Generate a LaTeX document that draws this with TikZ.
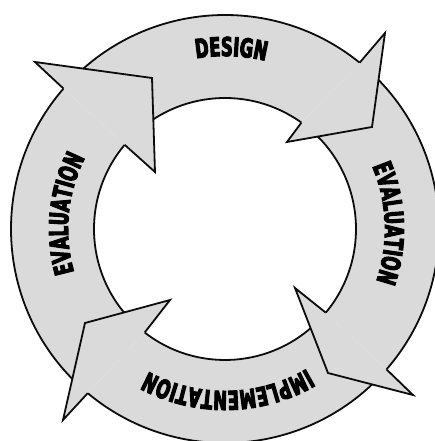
\documentclass[tikz,border=0pt]{standalone}
\usepackage{fontspec}
\usetikzlibrary{decorations.text}
\newfontfamily\cyclefont{DejaVu Sans}[FakeStretch=0.63, BoldFeatures={FakeBold=4}]
\definecolor{stipple}{RGB}{218,218,218}
\definecolor{ink}{RGB}{12,12,12}
\tikzset{
  band/.style={fill=stipple},
  rim/.style={draw=ink, line width=1.8pt, line join=miter},
  lbl/.style={decorate, decoration={text along path, text align=center,
    text={|\cyclefont\bfseries\fontsize{26}{26}\selectfont|#1}}}
}

\begin{document}
\begin{tikzpicture}[x=1pt,y=1pt]
  \useasboundingbox (-225,-212) rectangle (209,229);
  % arrow heads
  \coordinate (dOut) at (160,196);
  \coordinate (dTip) at (147,102);
  \coordinate (dIn) at (62,87);
  \coordinate (rOut) at (188,-166);
  \coordinate (rTip) at (103,-144);
  \coordinate (rIn) at (70,-59);
  \coordinate (iOut) at (-162,-191);
  \coordinate (iTip) at (-140,-94);
  \coordinate (iIn) at (-55,-71);
  \coordinate (lOut) at (-190,167);
  \coordinate (lTip) at (-73,151);
  \coordinate (lIn) at (-70,57);
  % bands
  \fill[band] (135:214) arc[start angle=135, end angle=51, radius=214] -- (54.3:131) arc[start angle=54.3, end angle=135, radius=131] -- cycle;
  \draw[rim] (135:214) arc[start angle=135, end angle=51, radius=214] (54.3:131) arc[start angle=54.3, end angle=135, radius=131];
  \fill[band] (48:214) arc[start angle=48, end angle=-41, radius=214] -- (-39.7:131) arc[start angle=-39.7, end angle=48, radius=131] -- cycle;
  \draw[rim] (48:214) arc[start angle=48, end angle=-41, radius=214] (-39.7:131) arc[start angle=-39.7, end angle=48, radius=131];
  \fill[band] (-44:214) arc[start angle=-44, end angle=-129.9, radius=214] -- (-127.8:131) arc[start angle=-127.8, end angle=-44, radius=131] -- cycle;
  \draw[rim] (-44:214) arc[start angle=-44, end angle=-129.9, radius=214] (-127.8:131) arc[start angle=-127.8, end angle=-44, radius=131];
  \fill[band] (227:214) arc[start angle=227, end angle=139, radius=214] -- (140:131) arc[start angle=140, end angle=227, radius=131] -- cycle;
  \draw[rim] (227:214) arc[start angle=227, end angle=139, radius=214] (140:131) arc[start angle=140, end angle=227, radius=131];
  % heads on top
  \fill[band] (51:214) -- (dOut) -- (dTip) -- (dIn) -- (54.3:131) -- cycle;
  \draw[rim] (51:214) -- (dOut) -- (dTip) -- (dIn) -- (54.3:131);
  \fill[band] (-41:214) -- (rOut) -- (rTip) -- (rIn) -- (-39.7:131) -- cycle;
  \draw[rim] (-41:214) -- (rOut) -- (rTip) -- (rIn) -- (-39.7:131);
  \fill[band] (-129.9:214) -- (iOut) -- (iTip) -- (iIn) -- (-127.8:131) -- cycle;
  \draw[rim] (-129.9:214) -- (iOut) -- (iTip) -- (iIn) -- (-127.8:131);
  \fill[band] (139:214) -- (lOut) -- (lTip) -- (lIn) -- (140:131) -- cycle;
  \draw[rim] (139:214) -- (lOut) -- (lTip) -- (lIn) -- (140:131);
  % labels
  \path[lbl=DESIGN] (128:173) arc[start angle=128, end angle=48, radius=173];
  \path[lbl=EVALUATION] (42:160) arc[start angle=42, end angle=-38, radius=160];
  \path[lbl=IMPLEMENTATION] (-49:162) arc[start angle=-49, end angle=-129, radius=162];
  \path[lbl=EVALUATION] (214.5:157) arc[start angle=214.5, end angle=134.5, radius=157];
\end{tikzpicture}
\end{document}
